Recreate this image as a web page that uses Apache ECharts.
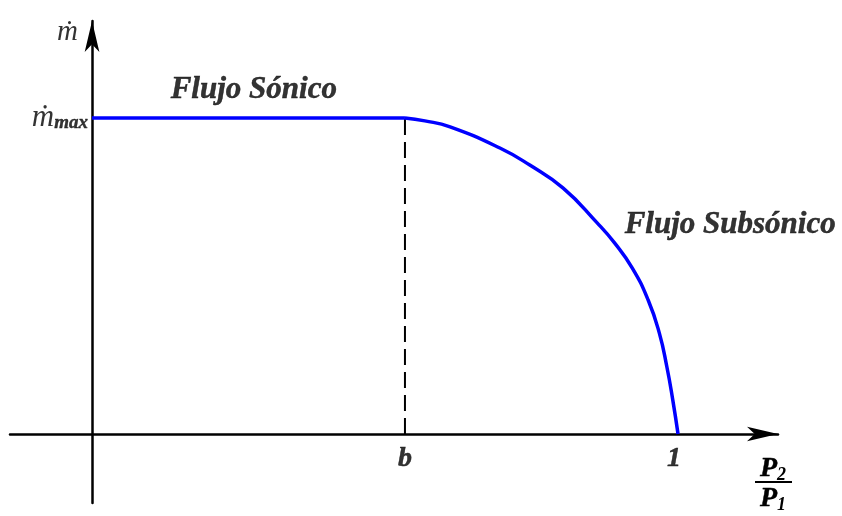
<!DOCTYPE html>
<html>
<head>
<meta charset="utf-8">
<script src="https://cdn.jsdelivr.net/npm/echarts@6/dist/echarts.min.js"></script>
<style>
  html, body { margin: 0; padding: 0; background: #fff; }
  #chart { width: 842px; height: 516px; }
</style>
</head>
<body>
<div id="chart"></div>
<script>
// pressure ratio where flow becomes sonic (choked)
const bValue = 0.534;

// horizontal part: choked flow, m = m_max
const sonicX = [0, bValue];
const sonicY = [1, 1];

// subsonic part
const subsonicX = [0.534, 0.568, 0.611, 0.696, 0.747, 0.804, 0.862, 0.892, 0.922, 0.949, 0.968, 0.981, 0.991, 1.0];
const subsonicY = [1.0, 0.991, 0.972, 0.905, 0.851, 0.778, 0.668, 0.604, 0.525, 0.424, 0.320, 0.212, 0.108, 0.0];

const xTickValues = [bValue, 1];
const xTickLabels = ['b', '1'];
const yTickValues = [1, 1.27];
const yTickLabels = ['{m|ṁ}{s|max}', '{t|ṁ}'];

const serif = '"Liberation Serif", "DejaVu Serif", serif';

const chart = echarts.init(document.getElementById('chart'));

const zip = (xs, ys) => xs.map((x, i) => [x, ys[i]]);

const tickFont = {
  color: '#000000',
  fontFamily: serif,
  fontStyle: 'italic',
  fontWeight: 'bold',
  fontSize: 28,
  textBorderColor: '#000',
  textBorderWidth: 0.5
};

chart.setOption({
  animation: false,
  grid: { left: 10, right: 64, top: 21, bottom: 13, outerBoundsMode: 'none', containLabel: false },
  xAxis: {
    type: 'value',
    min: -0.14,
    max: 1.1706,
    splitLine: { show: false },
    axisTick: { show: false },
    axisLabel: { show: false },
    axisLine: {
      onZero: true,
      lineStyle: { color: '#000', width: 2.5 },
      symbol: ['none', 'arrow'],
      symbolSize: [11, 31]
    }
  },
  yAxis: {
    type: 'value',
    min: -0.2184,
    max: 1.307,
    splitLine: { show: false },
    axisTick: { show: false },
    axisLabel: { show: false },
    axisLine: {
      onZero: true,
      lineStyle: { color: '#000', width: 2.5 },
      symbol: ['none', 'arrow'],
      symbolSize: [11, 31]
    }
  },
  series: [
    {
      type: 'line',
      data: zip(sonicX, sonicY),
      symbol: 'none',
      lineStyle: { color: '#0000ff', width: 3.5 },
      z: 3
    },
    {
      type: 'line',
      data: zip(subsonicX, subsonicY),
      symbol: 'none',
      smooth: 0.5,
      lineStyle: { color: '#0000ff', width: 3.5 },
      z: 3
    },
    {
      type: 'line',
      data: [[bValue, 0], [bValue, 1]],
      symbol: 'none',
      lineStyle: { color: '#000', width: 2, type: [16, 7] },
      z: 2
    },
    {
      // x tick labels
      type: 'scatter',
      symbolSize: 0,
      data: xTickValues.map((v, i) => ({
        value: [v, 0],
        label: { formatter: xTickLabels[i], offset: [i === 1 ? -4 : 0, 0] }
      })),
      label: Object.assign({ show: true, position: 'bottom', distance: 11 }, tickFont),
      z: 4
    },
    {
      // y tick labels
      type: 'scatter',
      symbolSize: 0,
      data: yTickValues.map((v, i) => ({
        value: [0, v],
        label: { formatter: yTickLabels[i] }
      })),
      label: {
        show: true,
        position: 'left',
        distance: 4,
        rich: {
          m: { fontFamily: serif, fontStyle: 'italic', fontSize: 31, color: '#000', verticalAlign: 'bottom', lineHeight: 30 },
          s: { fontFamily: serif, fontStyle: 'italic', fontWeight: 'bold', fontSize: 19, color: '#000',
               verticalAlign: 'bottom', lineHeight: 22, textBorderColor: '#000', textBorderWidth: 0.4 },
          t: { fontFamily: serif, fontStyle: 'italic', fontSize: 29, color: '#000', padding: [0, 10, 0, 0] }
        }
      },
      z: 4
    },
    {
      // region labels
      type: 'scatter',
      symbolSize: 0,
      data: [
        { value: [0.276, 1.09], name: 'Flujo Sónico' },
        { value: [1.089, 0.661], name: 'Flujo Subsónico' }
      ],
      label: Object.assign({ show: true, position: 'inside', formatter: '{b}' }, tickFont, { fontSize: 31 }),
      z: 4
    }
  ],
  graphic: [
    {
      type: 'text',
      x: 773, y: 469,
      style: {
        text: '{p|P}{s|2}',
        align: 'center', verticalAlign: 'middle',
        rich: {
          p: { fontFamily: serif, fontStyle: 'italic', fontWeight: 'bold', fontSize: 28, fill: '#000', stroke: '#000', lineWidth: 0.5 },
          s: { fontFamily: serif, fontStyle: 'italic', fontWeight: 'bold', fontSize: 18, fill: '#000', padding: [12, 0, 0, 0] }
        }
      }
    },
    {
      type: 'line',
      shape: { x1: 755, y1: 482, x2: 792, y2: 482 },
      style: { stroke: '#000', lineWidth: 2 }
    },
    {
      type: 'text',
      x: 773, y: 499,
      style: {
        text: '{p|P}{s|1}',
        align: 'center', verticalAlign: 'middle',
        rich: {
          p: { fontFamily: serif, fontStyle: 'italic', fontWeight: 'bold', fontSize: 28, fill: '#000', stroke: '#000', lineWidth: 0.5 },
          s: { fontFamily: serif, fontStyle: 'italic', fontWeight: 'bold', fontSize: 18, fill: '#000', padding: [12, 0, 0, 0] }
        }
      }
    }
  ]
});
</script>
</body>
</html>
